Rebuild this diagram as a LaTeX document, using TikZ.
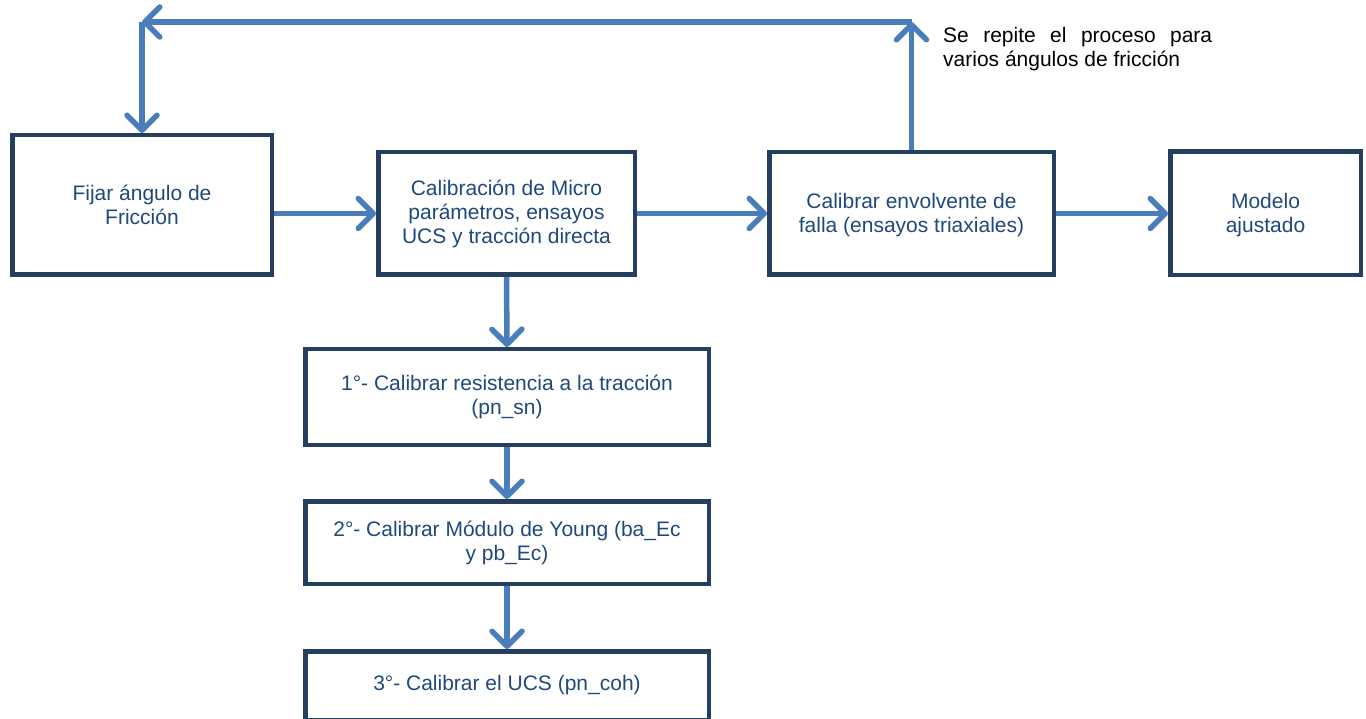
\documentclass[tikz,border=0pt]{standalone}
\usepackage{fontspec}
\setmainfont{Liberation Sans}
\usetikzlibrary{arrows.meta}
\definecolor{arrowblue}{HTML}{4A7EBB}
\definecolor{boxnavy}{HTML}{243F60}
\definecolor{textblue}{HTML}{1F497D}
\begin{document}
\begin{tikzpicture}[x=1pt,y=-1pt,
  procbox/.style={draw=boxnavy, line width=4.5pt, fill=white, inner sep=0pt, align=center,
    text=textblue, font=\fontsize{21}{24}\selectfont},
  flow/.style={draw=arrowblue, line width=5.5pt,
    -{Straight Barb[length=15pt,width=30pt,line cap=round,line join=round]}}
]
\useasboundingbox (0,0) rectangle (1366,719);
\node[procbox, minimum width=259.5pt, minimum height=139.5pt] (b1) at (142,205) {Fijar ángulo de\\Fricción};
\node[procbox, minimum width=256.5pt, minimum height=122.5pt] (b2) at (506.5,213.5) {Calibración de Micro\\parámetros, ensayos\\UCS y tracción directa};
\node[procbox, minimum width=284.5pt, minimum height=122.5pt] (b3) at (911.5,213.5) {\rule{0pt}{19pt}Calibrar envolvente de\\falla (ensayos triaxiales)};
\node[procbox, minimum width=190.5pt, minimum height=123.5pt] (b4) at (1265.5,213.5) {\rule{0pt}{19pt}Modelo\\ajustado};
\node[procbox, minimum width=403.5pt, minimum height=95.5pt] (b5) at (507,397) {1°- Calibrar resistencia a la tracción\\(pn\_sn)};
\node[procbox, minimum width=403.5pt, minimum height=82.5pt] (b6) at (507,542.5) {2°- Calibrar Módulo de Young (ba\_Ec\\y pb\_Ec)};
\node[procbox, minimum width=403.5pt, minimum height=68.5pt] (b7) at (507,685.5) {3°- Calibrar el UCS (pn\_coh)};

\coordinate (tr) at (911.5,22);
\coordinate (tl) at (142,22);

\draw[flow] (b1.east |- b2.west) -- (b2.west);
\draw[flow] (b2.east) -- (b3.west);
\draw[flow] (b3.east) -- (b4.west);
\draw[flow] (b2.south) -- (b5.north);
\draw[flow] (b5.south) -- (b6.north);
\draw[flow] (b6.south) -- (b7.north);
\draw[flow] (b3.north) -- (tr);
\draw[flow] (tr) -- (tl);
\draw[flow] (tl) -- (b1.north);

\node[anchor=north west, inner sep=0pt, align=left, text=black,
  font=\fontsize{21}{24}\selectfont] (note) at (943,27)
  {\makebox[269pt][s]{Se repite el proceso para}\\varios ángulos de fricción};
\end{tikzpicture}
\end{document}
